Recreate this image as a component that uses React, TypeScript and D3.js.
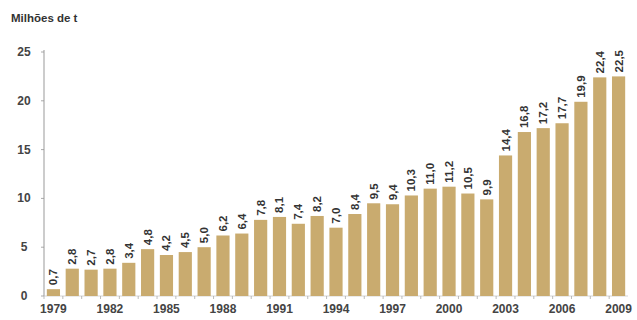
import React from "react";
import * as d3 from "d3";

const years = d3.range(1979, 2010).map(String);
const values = [0.7, 2.8, 2.7, 2.8, 3.4, 4.8, 4.2, 4.5, 5.0, 6.2, 6.4, 7.8, 8.1, 7.4, 8.2, 7.0, 8.4, 9.5, 9.4, 10.3, 11.0, 11.2, 10.5, 9.9, 14.4, 16.8, 17.2, 17.7, 19.9, 22.4, 22.5];
const yTicks = [0, 5, 10, 15, 20, 25];
const xTickLabels = ["1979", "1982", "1985", "1988", "1991", "1994", "1997", "2000", "2003", "2006", "2009"];

export default function App() {
  const W = 637, H = 320;
  const left = 44, right = 628, top = 52, bottom = 296;
  const x = d3.scaleBand<string>().domain(years).range([left, right]).paddingInner(0.3).paddingOuter(0.15);
  const y = d3.scaleLinear().domain([0, 25]).range([bottom, top]);
  const fmt = (v: number) => v.toFixed(1).replace(".", ",");
  const font = "Liberation Sans, Arial, sans-serif";
  return (
    <svg width={W} height={H} style={{ position: "absolute", left: 0, top: 0, background: "#fff" }} fontFamily={font}>
      <text x={11} y={22} fontSize={11.5} fontWeight="bold" fill="#333">Milhões de t</text>
      {yTicks.map((t) => (
        <g key={t}>
          <text x={24} y={y(t) + 4} fontSize={12} fontWeight="bold" fill="#444" textAnchor="middle">{t}</text>
          <line x1={left - 3} x2={left} y1={y(t)} y2={y(t)} stroke="#aaa" />
        </g>
      ))}
      <line x1={left} x2={left} y1={top - 2} y2={bottom} stroke="#999" strokeWidth={1} />
      <line x1={left} x2={right} y1={bottom} y2={bottom} stroke="#bbb" strokeWidth={0.6} />
      {years.map((yr) => (
        <line key={"t" + yr} x1={x(yr)! - x.step() * 0.15} x2={x(yr)! - x.step() * 0.15} y1={bottom} y2={bottom + 3} stroke="#aaa" strokeWidth={0.8} />
      ))}
      {years.map((yr, i) => (
        <rect key={yr} x={x(yr)} y={y(values[i])} width={x.bandwidth()} height={bottom - y(values[i])} fill="#c9ab6f" />
      ))}
      {years.map((yr, i) => {
        const cx = x(yr)! + x.bandwidth() / 2 + 4;
        const cy = y(values[i]) - 4;
        return (
          <text key={"l" + yr} transform={`translate(${cx},${cy}) rotate(-90)`} fontSize={11.5} fontWeight="bold" fill="#333">{fmt(values[i])}</text>
        );
      })}
      {xTickLabels.map((yr) => (
        <text key={"x" + yr} x={x(yr)! + x.bandwidth() / 2} y={313} fontSize={12} fontWeight="bold" fill="#444" textAnchor="middle">{yr}</text>
      ))}
    </svg>
  );
}
